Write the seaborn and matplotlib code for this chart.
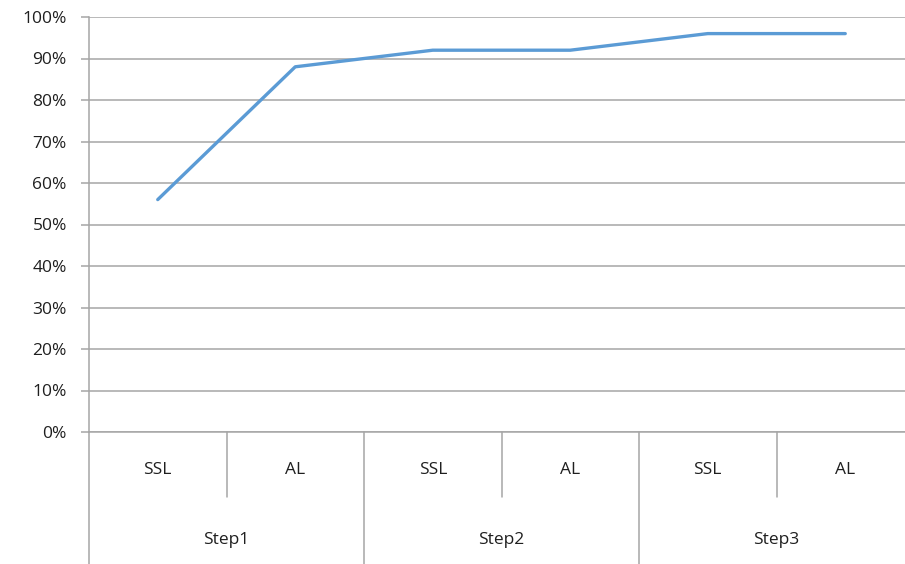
import seaborn as sns
import matplotlib.pyplot as plt
import matplotlib.transforms as mtransforms
import pandas as pd
import numpy as np

# data
steps = ['Step1', 'Step2', 'Step3']
methods = ['SSL', 'AL']
accuracy = [0.56, 0.88, 0.92, 0.92, 0.96, 0.96]

data = pd.DataFrame({
    'Step': np.repeat(steps, len(methods)),
    'Method': methods * len(steps),
    'Accuracy': accuracy,
})
data['pos'] = np.arange(len(data))

sns.set_style('white')
plt.rcParams['font.family'] = ['Open Sans', 'DejaVu Sans']

grid_col = '#a6a6a6'
text_col = '#1f1f1f'
fs = 12.5

fig = plt.figure(figsize=(9.05, 5.64), dpi=100)
ax = fig.add_axes([89/905, 1-432/564, 825/905, 415/564])

sns.lineplot(data=data, x='pos', y='Accuracy', color='#5b9bd5', linewidth=2.4, ax=ax)

ax.set_xlim(-0.5, len(data)-0.5)
ax.set_ylim(0, 1)
ax.set_yticks(np.arange(0, 1.01, 0.1))
ax.set_yticklabels([f'{int(round(v*100))}%' for v in np.arange(0, 1.01, 0.1)])
ax.set_xticks([])
ax.set_xlabel('')
ax.set_ylabel('')
ax.grid(axis='y', color=grid_col, linewidth=1.1)
ax.tick_params(axis='y', length=6, width=1.1, color=grid_col, pad=10,
               labelsize=fs, labelcolor=text_col, left=True)
for s in ['top', 'right']:
    ax.spines[s].set_visible(False)
ax.spines['left'].set_color(grid_col)
ax.spines['bottom'].set_color(grid_col)
ax.spines['left'].set_linewidth(1.1)
ax.spines['bottom'].set_linewidth(1.1)

# two-level category axis
trans = mtransforms.blended_transform_factory(ax.transData, ax.transAxes)
for i, row in data.iterrows():
    ax.text(row['pos'], -0.092, row['Method'], transform=trans, ha='center',
            va='center', fontsize=fs, color=text_col)
for k, st in enumerate(steps):
    center = k*len(methods) + (len(methods)-1)/2
    ax.text(center, -0.26, st, transform=trans, ha='center', va='center',
            fontsize=fs, color=text_col)
    # divider inside the step
    ax.plot([k*len(methods)+0.5]*2, [0, -0.157], transform=trans, color=grid_col,
            linewidth=1.1, clip_on=False)
    # divider between steps
    ax.plot([k*len(methods)-0.5]*2, [0, -0.32], transform=trans, color=grid_col,
            linewidth=1.1, clip_on=False)
ax.plot([len(data)-0.5]*2, [0, -0.32], transform=trans, color=grid_col,
        linewidth=1.1, clip_on=False)

fig.savefig('out.png', dpi=100)
